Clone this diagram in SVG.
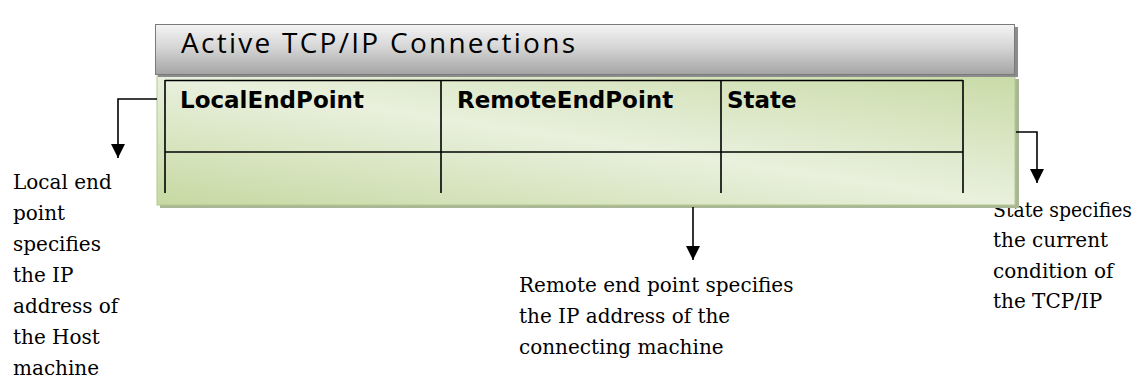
<svg xmlns="http://www.w3.org/2000/svg" width="1137" height="381" viewBox="0 0 1137 381">
  <defs>
    <linearGradient id="greenFill" x1="0" y1="1" x2="1" y2="0">
      <stop offset="0" stop-color="#c6d9a2"/>
      <stop offset="0.5" stop-color="#e9f0dd"/>
      <stop offset="1" stop-color="#c9dba7"/>
    </linearGradient>
    <linearGradient id="grayFill" x1="0" y1="0" x2="0" y2="1">
      <stop offset="0" stop-color="#f4f4f4"/>
      <stop offset="0.45" stop-color="#d6d6d6"/>
      <stop offset="1" stop-color="#a4a4a4"/>
    </linearGradient>
    <marker id="arrowHead" viewBox="0 0 14 14" refX="14" refY="7" markerWidth="14" markerHeight="14" markerUnits="userSpaceOnUse" orient="auto">
      <path d="M0,0 L14,7 L0,14 Z" fill="#000"/>
    </marker>
  </defs>
  <style>
    .note { font-family: "DejaVu Serif", "Liberation Serif", serif; font-size: 20px; fill: #000; }
    .colhead { font-family: "DejaVu Sans", "Liberation Sans", sans-serif; font-weight: bold; font-size: 23px; fill: #000; }
    .title { font-family: "Open Sans", "Liberation Sans", sans-serif; font-size: 28px; fill: #000; }
    .grid { stroke: #000; stroke-width: 1.6; fill: none; }
    .conn { stroke: #000; stroke-width: 1.6; fill: none; }
  </style>

  <rect width="1137" height="381" fill="#ffffff"/>

  <!-- explanatory notes -->
  <g id="note-local">
    <text class="note" x="13" y="189">Local end</text>
    <text class="note" x="13" y="220">point</text>
    <text class="note" x="13" y="251">specifies</text>
    <text class="note" x="13" y="282">the IP</text>
    <text class="note" x="13" y="313">address of</text>
    <text class="note" x="13" y="344">the Host</text>
    <text class="note" x="13" y="375">machine</text>
  </g>
  <g id="note-remote">
    <text class="note" x="519" y="292">Remote end point specifies</text>
    <text class="note" x="519" y="323">the IP address of the</text>
    <text class="note" x="519" y="354">connecting machine</text>
  </g>
  <g id="note-state">
    <text class="note" x="993" y="217" textLength="139" lengthAdjust="spacingAndGlyphs">State specifies</text>
    <text class="note" x="993" y="247">the current</text>
    <text class="note" x="993" y="278">condition of</text>
    <text class="note" x="993" y="308">the TCP/IP</text>
  </g>

  <!-- table panel -->
  <g id="table">
    <rect x="160" y="79" width="859" height="129" fill="#a9b796"/>
    <rect x="157" y="76" width="858" height="129" fill="url(#greenFill)" stroke="#b4c98e" stroke-width="1"/>
    <line class="grid" x1="165" y1="80.5" x2="963" y2="80.5"/>
    <line class="grid" x1="165" y1="152" x2="963" y2="152"/>
    <line class="grid" x1="165" y1="80" x2="165" y2="193"/>
    <line class="grid" x1="441" y1="80" x2="441" y2="193"/>
    <line class="grid" x1="721" y1="80" x2="721" y2="193"/>
    <line class="grid" x1="963" y1="80" x2="963" y2="193"/>
    <text class="colhead" x="180" y="108">LocalEndPoint</text>
    <text class="colhead" x="457" y="108">RemoteEndPoint</text>
    <text class="colhead" x="727" y="108">State</text>
  </g>

  <!-- title bar -->
  <g id="title-bar">
    <rect x="158" y="27" width="860" height="50" fill="#8c8c8c"/>
    <rect x="155.5" y="24.5" width="859" height="50" fill="url(#grayFill)" stroke="#7a7a7a" stroke-width="1"/>
    <text class="title" x="181" y="53" textLength="394" lengthAdjust="spacing">Active TCP/IP Connections</text>
  </g>

  <!-- connectors -->
  <g id="connectors">
    <path class="conn" d="M157,99 H118 V158" marker-end="url(#arrowHead)"/>
    <path class="conn" d="M1016,132 H1037 V183" marker-end="url(#arrowHead)"/>
    <path class="conn" d="M693,207 V260" marker-end="url(#arrowHead)"/>
  </g>
</svg>
